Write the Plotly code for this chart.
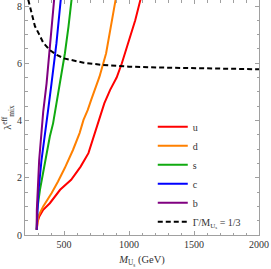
import plotly.graph_objects as go

# ---- data ----
u_mass = [290, 296, 310, 340, 391, 470, 555, 628, 688, 738, 767, 810, 855, 905, 945, 978, 1012, 1048, 1088]
u_lam = [0.18, 0.45, 0.65, 0.88, 1.11, 1.58, 1.93, 2.39, 2.86, 3.56, 4.0, 4.6, 5.07, 5.5, 6.0, 6.5, 7.0, 7.5, 8.22]

d_mass = [290, 296, 302, 340, 404, 454, 505, 569, 620, 650, 683, 709, 773, 824, 862, 897]
d_lam = [0.18, 0.45, 0.65, 1.0, 1.46, 1.87, 2.33, 2.97, 3.56, 4.02, 4.37, 4.72, 5.53, 6.35, 7.28, 8.22]

s_mass = [290, 294, 315, 353, 391, 416, 467, 507, 535, 558]
s_lam = [0.18, 0.88, 1.58, 2.51, 3.44, 3.9, 5.3, 6.35, 7.3, 8.22]

c_mass = [290, 294, 302, 327, 353, 366, 378, 404, 442, 475]
c_lam = [0.18, 1.0, 1.46, 2.62, 3.44, 3.9, 4.37, 5.3, 6.7, 8.22]

b_mass = [290, 291, 309, 327, 340, 366, 396, 424]
b_lam = [0.18, 0.88, 2.62, 3.8, 4.3, 5.3, 6.7, 8.22]

g_mass = [225, 250, 276, 310, 340, 391, 440, 500, 560, 650, 800, 1000, 1250, 1500, 1750, 2000]
g_lam = [8.22, 7.75, 7.3, 7.0, 6.72, 6.46, 6.3, 6.17, 6.1, 6.02, 5.94, 5.88, 5.85, 5.83, 5.81, 5.79]

x_ticks = [500, 1000, 1500, 2000]
y_ticks = [0, 2, 4, 6, 8]

series = [
    ("u", u_mass, u_lam, "#ff0000", "solid"),
    ("d", d_mass, d_lam, "#ff8000", "solid"),
    ("s", s_mass, s_lam, "#10aa10", "solid"),
    ("c", c_mass, c_lam, "#0000ff", "solid"),
    ("b", b_mass, b_lam, "#800080", "solid"),
    ("Γ/M<sub>U<sub>s</sub></sub> = 1/3", g_mass, g_lam, "#000000", "5px,3px"),
]

FONT = "Liberation Serif"
fig = go.Figure()
for i, (name, xs, ys, col, dash) in enumerate(series):
    fig.add_trace(go.Scatter(
        x=xs, y=ys, mode="lines", name=name, legendgroup=str(i),
        line=dict(color=col, width=2, dash=dash),
    ))

axis_common = dict(
    showline=True, linecolor="#a0a0a0", linewidth=1, mirror="allticks",
    ticks="inside", ticklen=4, tickcolor="#a0a0a0", tickwidth=1,
    showgrid=False, zeroline=False,
    tickfont=dict(family=FONT, size=10, color="#333333"),
)

fig.update_xaxes(
    range=[200, 2000], tickvals=x_ticks,
    minor=dict(dtick=100, ticks="inside", ticklen=2.5, tickcolor="#a0a0a0", showgrid=False),
    title=dict(text="<i>M</i><sub>U<sub>s</sub></sub> (GeV)",
               font=dict(family=FONT, size=10.5, color="#333333"), standoff=6),
    **axis_common,
)
fig.update_yaxes(
    range=[0, 8.21], tickvals=y_ticks,
    minor=dict(dtick=0.5, ticks="inside", ticklen=2.5, tickcolor="#a0a0a0", showgrid=False),
    title=dict(text="λ<sup>eff</sup><sub>mix</sub>",
               font=dict(family=FONT, size=10.5, color="#333333"), standoff=4),
    **axis_common,
)

fig.update_layout(
    width=271, height=269,
    margin=dict(l=25, r=11.5, t=0, b=34, pad=0),
    paper_bgcolor="white", plot_bgcolor="white",
    showlegend=True,
    legend=dict(
        x=0.546, y=0.522, xanchor="left", yanchor="top",
        bgcolor="rgba(0,0,0,0)", borderwidth=0,
        tracegroupgap=0,
        font=dict(family=FONT, size=10, color="#333333"),
    ),
)

fig.write_html("out.html", config={"displayModeBar": False},
               post_script="document.body.style.margin='0px';")
